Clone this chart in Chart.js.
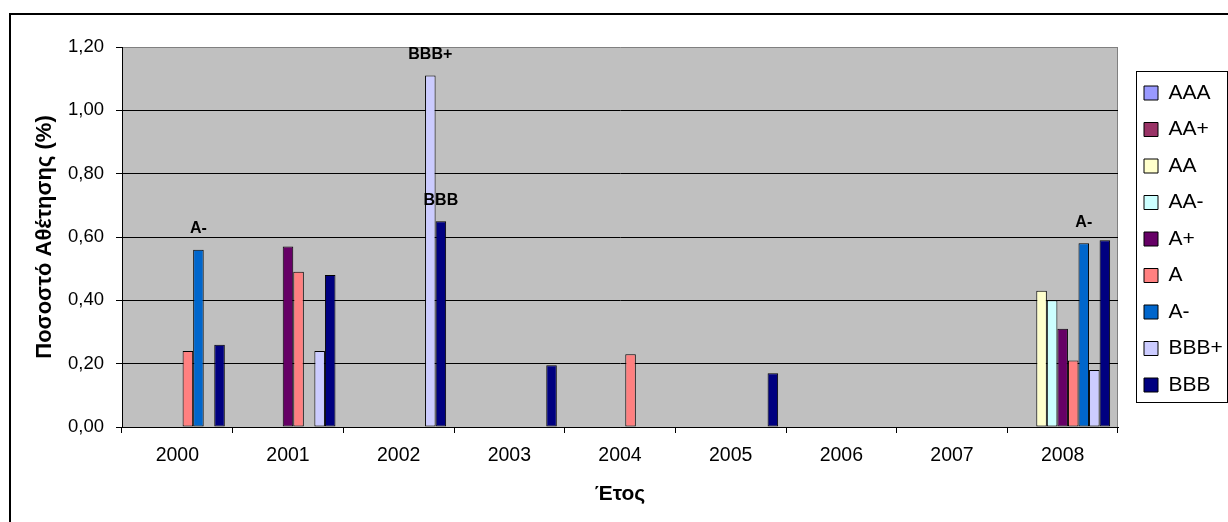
<!DOCTYPE html>
<html>
<head>
<meta charset="utf-8">
<script src="https://cdn.jsdelivr.net/npm/chart.js@4.4.1/dist/chart.umd.min.js"></script>
<style>
  html, body { margin: 0; padding: 0; background: #fff; overflow: hidden; }
  #wrap { position: relative; width: 1228px; height: 522px; }
</style>
</head>
<body>
<div id="wrap"><canvas id="ratingChart"></canvas></div>
<script>
// Κατηγορίες και σειρές
const years = ['2000', '2001', '2002', '2003', '2004', '2005', '2006', '2007', '2008'];
const ratings = ['AAA', 'AA+', 'AA', 'AA-', 'A+', 'A', 'A-', 'BBB+', 'BBB'];
const ratingColors = ['#9999FF', '#993366', '#FFFFCC', '#CCFFFF', '#660066', '#FF8080', '#0066CC', '#CCCCFF', '#000080'];

const valuesAAA    = [null, null, null, null, null, null, null, null, null];
const valuesAAplus = [null, null, null, null, null, null, null, null, null];
const valuesAA     = [null, null, null, null, null, null, null, null, 0.43];
const valuesAAminus= [null, null, null, null, null, null, null, null, 0.40];
const valuesAplus  = [null, 0.57, null, null, null, null, null, null, 0.31];
const valuesA      = [0.24, 0.49, null, null, 0.23, null, null, null, 0.21];
const valuesAminus = [0.56, null, null, null, null, null, null, null, 0.58];
const valuesBBBplus= [null, 0.24, 1.11, null, null, null, null, null, 0.18];
const valuesBBB    = [0.26, 0.48, 0.65, 0.195, null, 0.17, null, null, 0.59];

const yTickValues = [0, 0.2, 0.4, 0.6, 0.8, 1.0, 1.2];
const yTickLabels = ['0,00', '0,20', '0,40', '0,60', '0,80', '1,00', '1,20'];

// ετικέτες πάνω από συγκεκριμένες στήλες
const barLabels = [
    { rating: 'A-', year: '2000' },
    { rating: 'BBB+', year: '2002' },
    { rating: 'BBB', year: '2002' },
    { rating: 'A-', year: '2008' }
];

const allValues = [valuesAAA, valuesAAplus, valuesAA, valuesAAminus, valuesAplus, valuesA, valuesAminus, valuesBBBplus, valuesBBB];
const FONT = "Arial, 'Liberation Sans', sans-serif";

const chartDecor = {
    id: 'chartDecor',
    beforeDraw(chart) {
        const ctx = chart.ctx;
        const a = chart.chartArea;
        ctx.save();
        ctx.fillStyle = '#fff';
        ctx.fillRect(0, 0, chart.width, chart.height);
        // εξωτερικό πλαίσιο
        ctx.fillStyle = '#000';
        ctx.fillRect(9, 13, 2, chart.height);
        ctx.fillRect(9, 13, chart.width, 2);
        // φόντο περιοχής σχεδίασης
        ctx.fillStyle = '#C0C0C0';
        ctx.fillRect(a.left, a.top, a.right - a.left, a.bottom - a.top);
        ctx.strokeStyle = '#808080';
        ctx.lineWidth = 1;
        ctx.beginPath();
        ctx.moveTo(Math.round(a.right) - 0.5, a.top);
        ctx.lineTo(Math.round(a.right) - 0.5, a.bottom);
        ctx.stroke();
        ctx.restore();
    },
    afterLayout(chart) {
        const lg = chart.legend;
        if (!lg) return;
        lg.left = 1128.5;
        lg.right = lg.left + lg.width;
        lg.top = 67;
    },
    afterDatasetsDraw(chart) {
        const ctx = chart.ctx;
        ctx.save();
        ctx.font = 'bold 16px ' + FONT;
        ctx.fillStyle = '#000';
        ctx.textAlign = 'center';
        ctx.textBaseline = 'middle';
        barLabels.forEach(l => {
            const di = ratings.indexOf(l.rating);
            const bar = chart.getDatasetMeta(di).data[years.indexOf(l.year)];
            ctx.fillText(l.rating, bar.x, bar.y - 21);
        });
        ctx.restore();
    },
    afterDraw(chart) {
        const ctx = chart.ctx;
        ctx.save();
        ctx.strokeStyle = '#000';
        ctx.lineWidth = 1;
        ctx.strokeRect(1136.5, 71.5, 91, 331);
        ctx.restore();
    }
};

new Chart(document.getElementById('ratingChart'), {
    type: 'bar',
    data: {
        labels: years,
        datasets: ratings.map((r, i) => ({
            label: r,
            data: allValues[i],
            backgroundColor: ratingColors[i],
            borderColor: '#000',
            borderWidth: 1,
            borderSkipped: false,
            categoryPercentage: 0.858,
            barPercentage: 1
        }))
    },
    options: {
        responsive: true,
        maintainAspectRatio: false,
        animation: false,
        layout: { padding: { left: 0, top: 47, right: 10, bottom: 0 } },
        scales: {
            x: {
                grid: { drawOnChartArea: false, drawTicks: true, tickLength: 6, color: '#000', offset: true },
                border: { color: '#000', width: 1 },
                ticks: { color: '#000', font: { family: FONT, size: 19.5 }, padding: 11, maxRotation: 0 },
                title: { display: true, text: 'Έτος', color: '#000', font: { family: FONT, size: 21, weight: 'bold' }, padding: { top: 0, bottom: 15 } },
                afterFit(scale) { scale.height = 95; }
            },
            y: {
                min: 0,
                max: 1.2,
                afterBuildTicks(scale) { scale.ticks = yTickValues.map(v => ({ value: v })); },
                grid: {
                    color: ctx => ctx.tick && ctx.tick.value >= 1.2 ? '#808080' : '#000',
                    tickColor: '#000',
                    tickLength: 6
                },
                border: { color: '#000', width: 1 },
                ticks: {
                    color: '#000',
                    font: { family: FONT, size: 18.5 },
                    padding: 12,
                    callback: (v, i) => yTickLabels[i]
                },
                title: { display: true, text: 'Ποσοστό Αθέτησης (%)', color: '#000', font: { family: FONT, size: 22, weight: 'bold' }, padding: { top: 32, bottom: 0 } },
                afterFit(scale) { scale.width = 122; }
            }
        },
        plugins: {
            legend: {
                position: 'right',
                align: 'start',
                maxWidth: 100,
                labels: {
                    color: '#000',
                    font: { family: FONT, size: 21 },
                    boxWidth: 14,
                    boxHeight: 14,
                    padding: 15.5
                }
            },
            tooltip: { enabled: false }
        }
    },
    plugins: [chartDecor]
});
</script>
</body>
</html>
